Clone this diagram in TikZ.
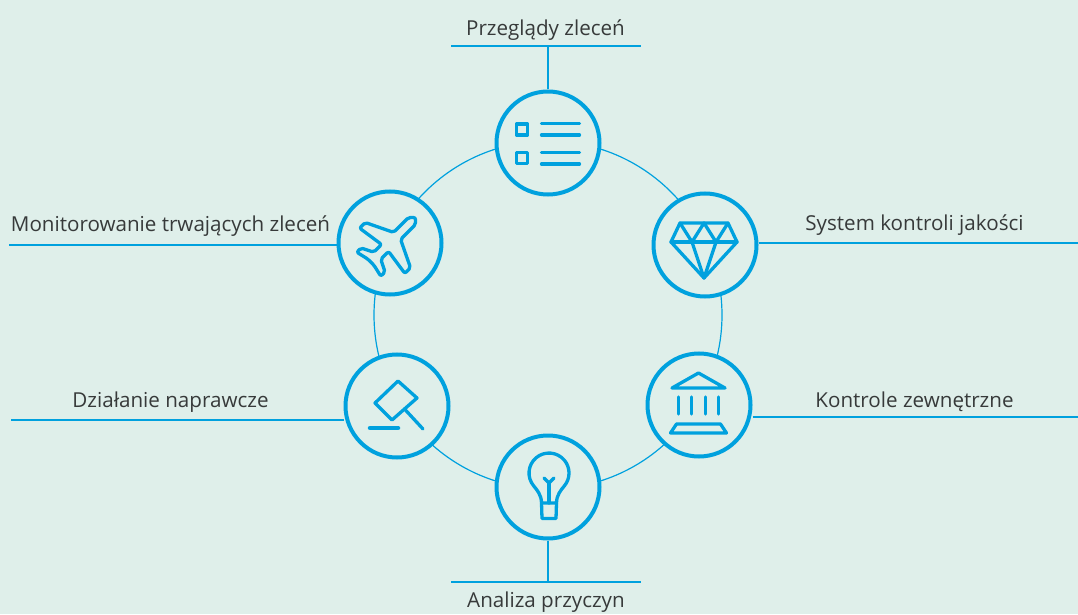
\documentclass[tikz,border=0pt]{standalone}
\usepackage{fontspec}
\setmainfont{Open Sans}
\usepackage{tikz}
\usetikzlibrary{positioning}

\definecolor{bg}{RGB}{223,239,234}
\definecolor{icon}{RGB}{0,161,222}
\definecolor{txt}{RGB}{55,58,58}

\tikzset{
  hub/.style={circle, draw=icon, line width=4pt, fill=bg, minimum size=103pt, inner sep=0pt},
  lead/.style={draw=icon, line width=1.4pt},
  ring/.style={draw=icon, line width=1.2pt},
  lbl/.style={text=txt, font=\fontsize{20.6}{24}\selectfont, inner sep=0pt, anchor=base},
  ico/.style={draw=icon, line width=3.3pt, line cap=round, line join=round},
}

\begin{document}
\begin{tikzpicture}[x=1pt,y=1pt]
			\fill[bg] (0,0) rectangle (1078,614);
			\useasboundingbox (0,0) rectangle (1078,614);

			% ring behind the hubs
			\coordinate (mid) at (548,299);
			\draw[ring] (mid) circle (174pt);

			% end points of the leads
			\coordinate (listL) at (451,568);
			\coordinate (listR) at (641,568);
			\coordinate (planeL) at (9,369);
			\coordinate (gemR) at (1078,371);
			\coordinate (gavelL) at (11,194);
			\coordinate (bankR) at (1078,197);
			\coordinate (bulbL) at (451,32);
			\coordinate (bulbR) at (641,32);

			\draw[lead] (listL) -- (listR);
			\draw[lead] (bulbL) -- (bulbR);

			\node[hub] (list) at (548,471) {};
			\node[hub] (gem) at (705,369) {};
			\node[hub] (bank) at (699,209) {};
			\node[hub] (bulb) at (548,127) {};
			\node[hub] (gavel) at (397,208) {};
			\node[hub] (plane) at (390,371) {};

			\draw[lead] (list.north) -- (list.north |- listL);
			\draw[lead] (bulb.south) -- (bulb.south |- bulbL);
			\draw[lead] (planeL) -- (planeL -| plane.west);
			\draw[lead] (gemR -| gem.east) -- (gemR);
			\draw[lead] (gavelL) -- (gavelL -| gavel.west);
			\draw[lead] (bankR -| bank.east) -- (bankR);

			\node[lbl] (listT) at (545.5,578) {Przeglądy zleceń};
			\node[lbl] (planeT) at (170.5,382) {Monitorowanie trwających zleceń};
			\node[lbl] (gemT) at (914.5,383) {System kontroli jakości};
			\node[lbl] (gavelT) at (170.5,207) {Działanie naprawcze};
			\node[lbl] (bankT) at (914.5,207) {Kontrole zewnętrzne};
			\node[lbl] (bulbT) at (546,7) {Analiza przyczyn};

			% list
			\begin{scope}[shift={(list)}]
				\draw[ico] (-31.5,8) rectangle (-20.5,19);
				\draw[ico] (-31.5,-20.5) rectangle (-20.5,-9.5);
				\draw[ico] (-6.5,19.5) -- (31.5,19.5);
				\draw[ico] (-6.5,8) -- (31.5,8);
				\draw[ico] (-6.5,-9.5) -- (31.5,-9.5);
				\draw[ico] (-6.5,-21) -- (31.5,-21);
			\end{scope}

			% gem
			\begin{scope}[shift={(gem)}, xshift=-1pt]
				\draw[ico] (-24,22) -- (24,22) -- (33,3) -- (0,-33) -- (-33,3) -- cycle;
				\draw[ico] (-33,3) -- (33,3);
				\draw[ico] (-24,22) -- (-12,3) -- (0,22) -- (12,3) -- (24,22);
				\draw[ico] (-12,3) -- (0,-33) -- (12,3);
			\end{scope}

			% bank
			\begin{scope}[shift={(bank)}, xshift=-0.5pt]
				\draw[ico] (0,32) -- (26.5,17) -- (-26.5,17) -- cycle;
				\foreach \cx in {-20,-6.7,6.7,20}
					\draw[ico] (\cx,8) -- (\cx,-9);
				\draw[ico] (-22,-19) -- (22,-19) -- (28,-28) -- (-28,-28) -- cycle;
			\end{scope}

			% bulb
			\begin{scope}[shift={(bulb)}, xshift=1pt]
				\draw[ico] (-7.5,-16) .. controls (-7.5,-8) and (-12,-3) .. (-15.3,1.1)
					arc[start angle=220, end angle=-40, radius=20pt]
					.. controls (12,-3) and (7.5,-8) .. (7.5,-16) -- cycle;
				\draw[ico] (-7.5,-16) -- (-7,-31.5) -- (7,-31.5) -- (7.5,-16);
				\draw[ico] (0,-16) -- (0,4);
				\draw[ico] (-5,9) -- (0,4) -- (5,9);
			\end{scope}

			% gavel
			\begin{scope}[shift={(gavel)}]
				\draw[ico] (1,25) -- (20,8) -- (-5,-14) -- (-22,3) -- cycle;
				\draw[ico] (7.5,-3) -- (26,-23);
				\draw[ico, line width=4.5pt] (-27,-22) -- (1,-22);
			\end{scope}

			% plane
			\begin{scope}[shift={(plane)}, rotate=45]
				\draw[ico, rounded corners=2pt] (36,0) -- (31,5) -- (10,5) -- (-3,32) -- (-11,32)
					-- (-7,5) -- (-18,5) -- (-24,17) -- (-30,17) -- (-27,4) -- (-27,-4)
					-- (-30,-17) -- (-24,-17) -- (-18,-5) -- (-7,-5) -- (-11,-32) -- (-3,-32)
					-- (10,-5) -- (31,-5) -- cycle;
			\end{scope}
		\end{tikzpicture}
\end{document}
